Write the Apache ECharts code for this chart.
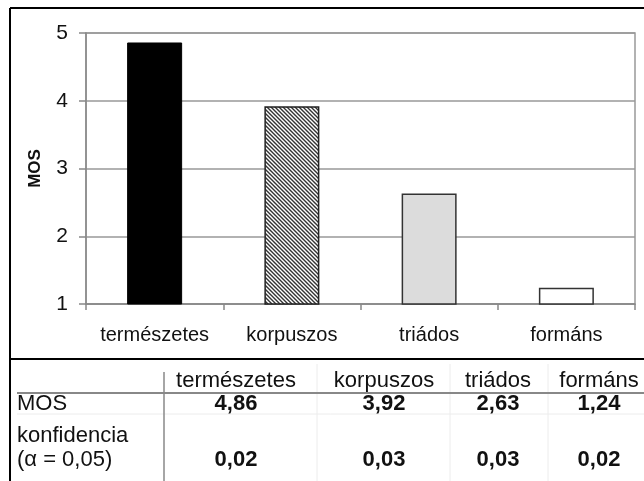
<!DOCTYPE html>
<html><head><meta charset="utf-8">
<script src="https://cdn.jsdelivr.net/npm/echarts@6/dist/echarts.min.js"></script>
<style>html,body{margin:0;padding:0;background:#fff}#c{width:644px;height:481px}</style>
</head><body><div id="c"></div>
<script>
// ---- data ----
const categories = ['természetes', 'korpuszos', 'triádos', 'formáns'];
const mosValues = [4.86, 3.92, 2.63, 1.24];
const confValues = [0.02, 0.03, 0.03, 0.02];
const yMin = 1, yMax = 5, yStep = 1;
const rowLabels = ['MOS', 'konfidencia', '(α = 0,05)'];
const yAxisName = 'MOS';

// ---- styles ----
const FONT = '"Liberation Sans", Arial, sans-serif';
function hatch() {
  const c = document.createElement('canvas');
  c.width = 4; c.height = 4;
  const g = c.getContext('2d');
  g.fillStyle = '#fff'; g.fillRect(0, 0, 4, 4);
  g.strokeStyle = '#333'; g.lineWidth = 1.4;
  g.beginPath();
  g.moveTo(-1, -1); g.lineTo(5, 5);
  g.moveTo(-1, 3); g.lineTo(1, 5);
  g.moveTo(3, -1); g.lineTo(5, 1);
  g.stroke();
  return c;
}
const barStyles = [
  { color: '#000', borderColor: '#000', borderWidth: 1 },
  { color: { image: hatch(), repeat: 'repeat' }, borderColor: '#222', borderWidth: 1.5 },
  { color: '#dcdcdc', borderColor: '#333', borderWidth: 1.5 },
  { color: '#fff', borderColor: '#333', borderWidth: 1.5 }
];
const fmt = v => v.toFixed(2).replace('.', ',');

// table layout
const colX = [236, 384, 498, 599];
const headerY = 381, mosY = 404, konfY = 436, alphaY = 460;
const TF = 22;

const graphic = [];
function line(x1, y1, x2, y2, color, w) {
  graphic.push({ type: 'line', silent: true, shape: { x1, y1, x2, y2 }, style: { stroke: color, lineWidth: w } });
}
function text(x, y, t, opts) {
  graphic.push({ type: 'text', silent: true, x, y, style: Object.assign({ text: t, font: TF + 'px ' + FONT, fill: '#111', textAlign: 'center', textVerticalAlign: 'middle' }, opts || {}) });
}
// faint table lines
[317, 450, 548].forEach(x => line(x, 364, x, 481, '#ececec', 1));
line(17, 414, 644, 414, '#ececec', 1);
// frame
line(10, 8, 644, 8, '#000', 2);
line(10, 8, 10, 481, '#000', 2);
line(10, 359, 644, 359, '#000', 2);
// table rules
line(164, 372, 164, 481, '#888', 1.5);
line(17, 393, 644, 393, '#888', 2);
// header + values
categories.forEach((c, i) => {
  text(colX[i], headerY, c);
  text(colX[i], mosY, fmt(mosValues[i]), { font: 'bold ' + TF + 'px ' + FONT });
  text(colX[i], alphaY, fmt(confValues[i]), { font: 'bold ' + TF + 'px ' + FONT });
});
text(17, mosY, rowLabels[0], { textAlign: 'left' });
text(17, konfY, rowLabels[1], { textAlign: 'left' });
text(17, alphaY, rowLabels[2], { textAlign: 'left' });

const chart = echarts.init(document.getElementById('c'), null, { renderer: 'canvas' });
chart.setOption({
  animation: false,
  backgroundColor: '#fff',
  grid: { left: 86, right: 9, top: 33, bottom: 177, show: true, borderColor: '#999', borderWidth: 1.5, backgroundColor: 'transparent' },
  xAxis: {
    type: 'category', data: categories,
    axisLine: { lineStyle: { color: '#888', width: 1.5 } },
    axisTick: { show: true, interval: 0, alignWithLabel: false, length: 6, lineStyle: { color: '#888', width: 1.5 } },
    axisLabel: { interval: 0, fontSize: 20, fontFamily: FONT, color: '#111', margin: 21 }
  },
  yAxis: {
    type: 'value', min: yMin, max: yMax, interval: yStep,
    name: yAxisName, nameLocation: 'middle', nameGap: 42,
    nameTextStyle: { fontSize: 17, fontWeight: 'bold', fontFamily: FONT, color: '#111' },
    axisLine: { show: true, lineStyle: { color: '#888', width: 1.5 } },
    axisTick: { show: true, length: 7, lineStyle: { color: '#888', width: 1.5 } },
    axisLabel: { fontSize: 21, fontFamily: FONT, color: '#111', margin: 18 },
    splitLine: { lineStyle: { color: '#999', width: 1.5 } }
  },
  series: [{
    type: 'bar', barWidth: 55,
    data: mosValues.map((v, i) => ({ value: v, itemStyle: barStyles[i] }))
  }],
  graphic: graphic
});
</script></body></html>
